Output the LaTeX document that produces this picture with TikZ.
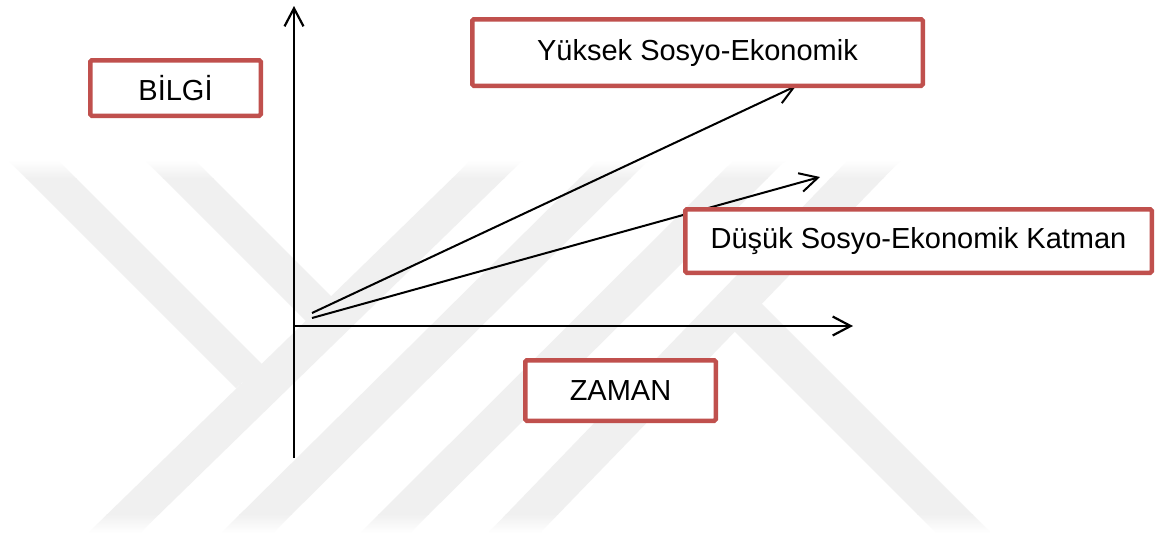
\documentclass[tikz,border=0pt]{standalone}
\usepackage{fontspec}
\setmainfont{Liberation Sans}
\usetikzlibrary{arrows.meta}
\definecolor{boxred}{RGB}{192,80,77}
\definecolor{wm}{RGB}{240,240,240}
\begin{document}
\begin{tikzpicture}[x=1pt,y=-1pt,
  lbl/.style={draw=boxred, line width=4.5pt, fill=white, rounded corners=1.5pt,
              inner sep=0pt, font=\fontsize{29}{34}\selectfont, text=black},
  axisline/.style={line width=2.2pt, -{Straight Barb[length=18pt,width=19pt]}},
  trend/.style={line width=2pt, -{Straight Barb[length=18pt,width=19pt]}}]
\useasboundingbox (0,0) rectangle (1159,536);
\fill[white] (0,0) rectangle (1159,536);
% watermark
\begin{scope}
\clip (470,161) -- (522,161) -- (141,532) -- (89,532) -- cycle
      (597,161) -- (648,161) -- (274,532) -- (222,532) -- cycle
      (733,161) -- (785,161) -- (411,532) -- (361,532) -- cycle
      (847,161) -- (900,161) -- (541,532) -- (489,532) -- cycle
      (9,161) -- (59,161) -- (262,364) -- (236,388) -- cycle
      (146,161) -- (196,161) -- (331,296) -- (306,321) -- cycle
      (735,332) -- (762,304) -- (990,532) -- (935,532) -- cycle;
\shade[top color=white, bottom color=wm] (0,160) rectangle (1159,178);
\fill[wm] (0,177.5) rectangle (1159,514.5);
\shade[top color=wm, bottom color=white] (0,514) rectangle (1159,533);
\end{scope}
% axes
\coordinate (ybot) at (294,458);
\coordinate (ytop) at (294,6);
\coordinate (xl) at (293,326);
\coordinate (xr) at (853,326);
\draw[axisline] (ybot) -- (ytop);
\draw[axisline] (xl) -- (xr);
% trends
\coordinate (o1) at (312,313);
\coordinate (o2) at (312,318);
\coordinate (t1) at (796,86);
\coordinate (t2) at (820,177);
\draw[trend] (o1) -- (t1);
\draw[trend] (o2) -- (t2);
% labels
\node[lbl, minimum width=170.5pt, minimum height=55.5pt] (bilgi) at (175.5,88) {BİLGİ};
\node[lbl, minimum width=450.5pt, minimum height=66.5pt] (yuksek) at (697.5,52.5) {Yüksek Sosyo-Ekonomik};
\node[lbl, minimum width=466.5pt, minimum height=63.5pt] (dusuk) at (918.5,241) {Düşük Sosyo-Ekonomik Katman};
\node[lbl, minimum width=190.5pt, minimum height=60.5pt] (zaman) at (620.5,390.5) {ZAMAN};
\end{tikzpicture}
\end{document}
